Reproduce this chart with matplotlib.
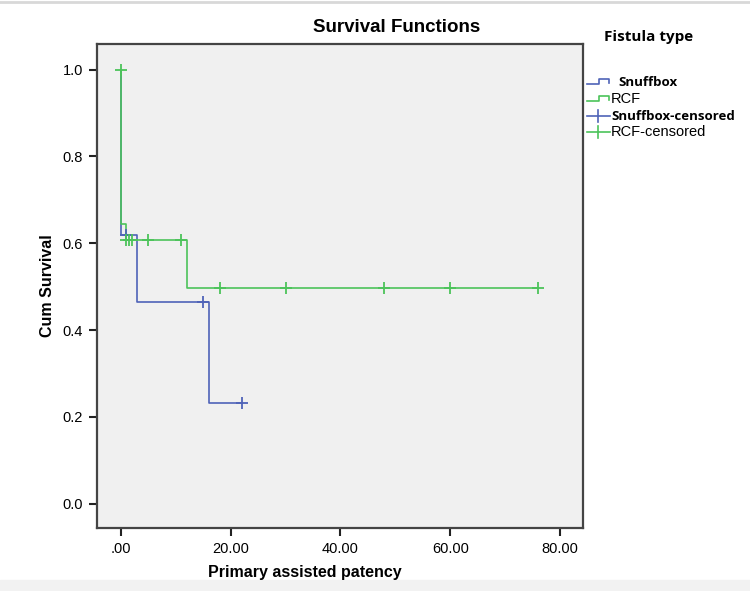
import matplotlib.pyplot as plt
from matplotlib.lines import Line2D
from matplotlib.patches import Rectangle

# Survival step data (time, cumulative survival)
snuff_t = [0, 0, 3, 16, 22]
snuff_s = [1.0, 0.62, 0.465, 0.232, 0.232]
rcf_t = [0, 0, 1, 12, 76]
rcf_s = [1.0, 0.645, 0.607, 0.497, 0.497]

# Censored observations
snuff_cens_t = [1, 15, 22]
snuff_cens_s = [0.62, 0.465, 0.232]
rcf_cens_t = [0, 1, 1.5, 2, 5, 11, 18, 30, 48, 60, 76]
rcf_cens_s = [1.0, 0.607, 0.607, 0.607, 0.607, 0.607, 0.497, 0.497, 0.497, 0.497, 0.497]

x_ticks = [0, 20, 40, 60, 80]
x_tick_labels = [".00", "20.00", "40.00", "60.00", "80.00"]
y_ticks = [0.0, 0.2, 0.4, 0.6, 0.8, 1.0]

legend_labels = ["Snuffbox", "RCF", "Snuffbox-censored", "RCF-censored"]

blue = "#4f63b8"
green = "#4cc35a"
sans = "Liberation Sans"
W, H = 750, 591

fig = plt.figure(figsize=(7.5, 5.91), dpi=100)
ax = fig.add_axes([97 / W, 1 - 528 / H, 486.5 / W, 484 / H])
ax.set_facecolor("#f0f0f0")

ax.plot(snuff_t, snuff_s, drawstyle="steps-post", color=blue, lw=1.2)
ax.plot(rcf_t, rcf_s, drawstyle="steps-post", color=green, lw=1.2)
ax.plot(snuff_cens_t, snuff_cens_s, ls="none", marker="+", ms=9, mew=1.3, color=blue)
ax.plot(rcf_cens_t, rcf_cens_s, ls="none", marker="+", ms=9, mew=1.3, color=green)

ax.set_xlim(-4.37, 84.28)
ax.set_ylim(-0.056, 1.059)
ax.set_xticks(x_ticks)
ax.set_xticklabels(x_tick_labels)
ax.set_yticks(y_ticks)
ax.set_yticklabels([f"{v:.1f}" for v in y_ticks])
for lab in ax.get_xticklabels() + ax.get_yticklabels():
    lab.set_family(sans)
    lab.set_fontsize(10.5)
ax.tick_params(direction="out", length=6, width=1.5, color="#222222", pad=4)

for sp in ax.spines.values():
    sp.set_color("#444444")
    sp.set_linewidth(1.6)

def px(x, y):
    return x / W, 1 - y / H

fig.text(*px(305, 572), "Primary assisted patency", ha="center", va="center",
         fontsize=11.5, fontweight="bold", family=sans)
ax.set_ylabel("Cum Survival", fontsize=11.5, fontweight="bold", family=sans)
ax.yaxis.set_label_coords(-(97 - 55) / 486.5, 0.5)

fig.text(*px(397, 28), "Survival Functions", ha="center", va="center",
         fontsize=13.5, fontweight="bold", family=sans)

# Legend drawn by hand (SPSS style)
fig.text(*px(604, 37), "Fistula type", ha="left", va="center",
         fontsize=11, fontweight="bold", family="Open Sans")

rows = [82, 99, 116, 132]
for i, (lab, y) in enumerate(zip(legend_labels, rows)):
    col = blue if i % 2 == 0 else green
    if i < 2:
        xs = [587, 599, 599, 609, 609]
        ys = [y + 2, y + 2, y - 3, y - 3, y + 1]
    else:
        xs = [587, 610]
        ys = [y, y]
    fx, fy = zip(*[px(a, b) for a, b in zip(xs, ys)])
    fig.add_artist(Line2D(fx, fy, color=col, lw=1.2, transform=fig.transFigure))
    if i >= 2:
        fx, fy = zip(*[px(598, y - 6), px(598, y + 6)])
        fig.add_artist(Line2D(fx, fy, color=col, lw=1.2, transform=fig.transFigure))
    bold = i in (0, 2)
    tx = 618 if i == 0 else 611
    fig.text(*px(tx, y), lab, ha="left", va="center", fontsize=9.5 if bold else 10.5,
             fontweight="bold" if bold else "normal",
             family="Open Sans" if bold else sans)

# page edges
fig.add_artist(Rectangle((0, 0), 1, 11 / H, color="#f2f2f2", transform=fig.transFigure, zorder=-1))
fig.add_artist(Line2D([0, 1], [1 - 2 / H, 1 - 2 / H], color="#d8d8d8", lw=2, transform=fig.transFigure))

fig.savefig("out.png", dpi=100)
